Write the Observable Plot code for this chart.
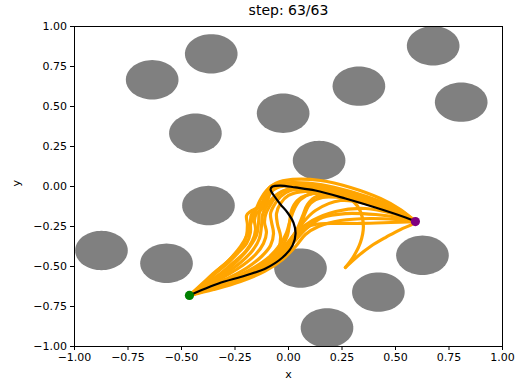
<!DOCTYPE html>
<html><head><meta charset="utf-8">
<script src="https://cdn.jsdelivr.net/npm/d3@7"></script>
<script src="https://cdn.jsdelivr.net/npm/@observablehq/plot@0.6"></script>
<style>body{margin:0;background:#fff} svg{display:block}</style>
</head><body><div id="chart"></div>
<script>
const title = "step: 63/63";
const tickValues = [-1, -0.75, -0.5, -0.25, 0, 0.25, 0.5, 0.75, 1];
const obstacleX = [-0.637, -0.361, -0.435, -0.025, 0.329, 0.676, 0.807, 0.143, -0.374, -0.874, -0.57, 0.056, 0.626, 0.42, 0.18];
const obstacleY = [0.667, 0.829, 0.333, 0.458, 0.627, 0.879, 0.527, 0.1625, -0.119, -0.40, -0.48, -0.51, -0.43, -0.66, -0.884];
const obstacleRadius = 0.123;
const startPoint = [-0.463, -0.681];
const goalPoint = [0.593, -0.219];
const bestPath = [[-0.463,-0.681],[-0.411,-0.65],[-0.327,-0.606],[-0.201,-0.556],[-0.107,-0.5125],[-0.028,-0.444],[0.019,-0.369],[0.033,-0.294],[0.023,-0.225],[-0.005,-0.1625],[-0.037,-0.1125],[-0.065,-0.0625],[-0.084,-0.019],[-0.075,0],[-0.037,0.006],[0.033,-0.006],[0.126,-0.025],[0.266,-0.075],[0.421,-0.1375],[0.547,-0.194],[0.593,-0.219]];
const samplePaths = [
 [[-0.463,-0.681],[-0.402,-0.606],[-0.346,-0.5375],[-0.294,-0.481],[-0.248,-0.419],[-0.215,-0.369],[-0.196,-0.306],[-0.192,-0.2375],[-0.196,-0.181],[-0.178,-0.156],[-0.145,-0.131],[-0.121,-0.094],[-0.107,-0.044],[-0.089,-0.006],[-0.047,0.019],[0.033,0.025],[0.150,0.0125],[0.290,-0.031],[0.430,-0.094],[0.523,-0.15],[0.593,-0.219]],
 [[-0.463,-0.681],[-0.388,-0.6125],[-0.318,-0.544],[-0.257,-0.475],[-0.201,-0.406],[-0.168,-0.3375],[-0.154,-0.269],[-0.159,-0.2125],[-0.150,-0.169],[-0.121,-0.1375],[-0.098,-0.0875],[-0.084,-0.0375],[-0.051,-0.006],[0.019,0.006],[0.126,-0.006],[0.266,-0.044],[0.407,-0.106],[0.514,-0.1625],[0.593,-0.219]],
 [[-0.463,-0.681],[-0.374,-0.619],[-0.290,-0.556],[-0.215,-0.494],[-0.154,-0.425],[-0.117,-0.356],[-0.103,-0.2875],[-0.112,-0.225],[-0.107,-0.175],[-0.089,-0.125],[-0.065,-0.075],[-0.028,-0.031],[0.047,-0.0125],[0.173,-0.025],[0.313,-0.069],[0.453,-0.131],[0.593,-0.219]],
 [[-0.463,-0.681],[-0.364,-0.631],[-0.262,-0.575],[-0.168,-0.519],[-0.093,-0.456],[-0.047,-0.3875],[-0.037,-0.3125],[-0.051,-0.2375],[-0.056,-0.169],[-0.037,-0.106],[0,-0.056],[0.079,-0.031],[0.220,-0.05],[0.360,-0.094],[0.486,-0.15],[0.593,-0.219]],
 [[-0.463,-0.681],[-0.355,-0.631],[-0.243,-0.581],[-0.140,-0.525],[-0.056,-0.456],[0.009,-0.369],[0.056,-0.2875],[0.103,-0.244],[0.196,-0.231],[0.336,-0.231],[0.477,-0.225],[0.593,-0.219]],
 [[-0.463,-0.681],[-0.364,-0.631],[-0.252,-0.581],[-0.154,-0.519],[-0.075,-0.45],[-0.019,-0.375],[0.037,-0.2875],[0.112,-0.2125],[0.220,-0.156],[0.360,-0.1375],[0.486,-0.169],[0.593,-0.219]],
 [[-0.463,-0.681],[-0.364,-0.631],[-0.262,-0.575],[-0.168,-0.5125],[-0.093,-0.444],[-0.042,-0.369],[-0.009,-0.2875],[0.009,-0.206],[0.028,-0.1375],[0.056,-0.081],[0.112,-0.044],[0.243,-0.05],[0.383,-0.1],[0.500,-0.156],[0.593,-0.219]],
 [[-0.463,-0.681],[-0.397,-0.606],[-0.332,-0.525],[-0.271,-0.45],[-0.224,-0.375],[-0.192,-0.3],[-0.173,-0.219],[-0.154,-0.15],[-0.131,-0.081],[-0.103,-0.025],[-0.061,0.019],[0.019,0.044],[0.150,0.0375],[0.290,-0.006],[0.430,-0.075],[0.523,-0.144],[0.593,-0.219]],
 [[-0.463,-0.681],[-0.379,-0.619],[-0.299,-0.55],[-0.224,-0.475],[-0.168,-0.4],[-0.136,-0.325],[-0.126,-0.244],[-0.121,-0.175],[-0.098,-0.1125],[-0.061,-0.056],[0.009,-0.0125],[0.126,-0.006],[0.234,-0.0375],[0.299,-0.0875],[0.336,-0.156],[0.350,-0.25],[0.336,-0.35],[0.304,-0.4375],[0.266,-0.506]],
 [[-0.463,-0.681],[-0.360,-0.631],[-0.252,-0.581],[-0.150,-0.519],[-0.065,-0.444],[0,-0.35],[0.056,-0.244],[0.126,-0.15],[0.243,-0.0875],[0.383,-0.1125],[0.500,-0.1625],[0.593,-0.219],[0.523,-0.269],[0.453,-0.319],[0.383,-0.375],[0.322,-0.4375],[0.266,-0.506]],
 [[-0.463,-0.681],[-0.360,-0.631],[-0.248,-0.581],[-0.150,-0.519],[-0.070,-0.45],[-0.009,-0.3625],[0.037,-0.275],[0.065,-0.1875],[0.089,-0.1125],[0.131,-0.0625],[0.243,-0.0625],[0.383,-0.106],[0.500,-0.1625],[0.593,-0.219]],
 [[-0.463,-0.681],[-0.355,-0.6375],[-0.238,-0.5875],[-0.136,-0.525],[-0.051,-0.45],[0.019,-0.356],[0.084,-0.2625],[0.159,-0.194],[0.266,-0.169],[0.407,-0.175],[0.514,-0.194],[0.593,-0.219]],
 [[-0.463,-0.681],[-0.383,-0.619],[-0.308,-0.544],[-0.238,-0.4625],[-0.187,-0.3875],[-0.150,-0.306],[-0.140,-0.225],[-0.136,-0.1625],[-0.117,-0.106],[-0.093,-0.056],[-0.065,-0.0125],[-0.014,0.0125],[0.079,0.0125],[0.220,-0.019],[0.360,-0.075],[0.486,-0.144],[0.593,-0.219]],
 [[-0.463,-0.681],[-0.397,-0.6125],[-0.336,-0.5375],[-0.280,-0.475],[-0.234,-0.4125],[-0.196,-0.356],[-0.178,-0.2875],[-0.178,-0.225],[-0.173,-0.175],[-0.150,-0.144],[-0.121,-0.1125],[-0.103,-0.0625],[-0.084,-0.019],[-0.037,0.006],[0.056,0.0125],[0.196,-0.0125],[0.336,-0.0625],[0.467,-0.131],[0.593,-0.219]],
 [[-0.463,-0.681],[-0.369,-0.625],[-0.276,-0.569],[-0.192,-0.506],[-0.126,-0.4375],[-0.084,-0.369],[-0.070,-0.294],[-0.079,-0.225],[-0.084,-0.169],[-0.065,-0.1125],[-0.037,-0.0625],[0.009,-0.025],[0.103,-0.019],[0.243,-0.044],[0.383,-0.1],[0.500,-0.156],[0.593,-0.219]],
 [[-0.463,-0.681],[-0.350,-0.644],[-0.224,-0.594],[-0.112,-0.531],[-0.028,-0.456],[0.033,-0.375],[0.079,-0.3],[0.140,-0.25],[0.243,-0.2125],[0.383,-0.2],[0.500,-0.206],[0.593,-0.219]],
 [[-0.463,-0.681],[-0.355,-0.6375],[-0.234,-0.5875],[-0.126,-0.519],[-0.047,-0.444],[0.014,-0.35],[0.056,-0.2625],[0.075,-0.175],[0.103,-0.106],[0.159,-0.069],[0.266,-0.075],[0.393,-0.119],[0.505,-0.169],[0.593,-0.219]],
 [[-0.463,-0.681],[-0.364,-0.6375],[-0.252,-0.581],[-0.159,-0.525],[-0.084,-0.456],[-0.033,-0.381],[-0.005,-0.306],[0.005,-0.225],[0.014,-0.15],[0.042,-0.0875],[0.093,-0.05],[0.196,-0.044],[0.336,-0.081],[0.477,-0.144],[0.593,-0.219]]
];

// derived tables
const angles = d3.range(0, 361, 5).map(a => a * Math.PI / 180);
const obstaclePts = obstacleX.flatMap((cx, i) => angles.map(t => ({id: i, x: cx + obstacleRadius * Math.cos(t), y: obstacleY[i] + obstacleRadius * Math.sin(t)})));
const samplePts = samplePaths.flatMap((p, i) => p.map(([x, y]) => ({id: i, x, y})));
const bestPts = bestPath.map(([x, y]) => ({x, y}));
const fmt = d3.format(".2f");

const chart = Plot.plot({
  width: 520, height: 383,
  marginLeft: 74, marginRight: 18, marginTop: 26, marginBottom: 37,
  style: {fontFamily: "'DejaVu Sans', sans-serif", fontSize: "11px", background: "#fff", color: "#000", overflow: "visible"},
  x: {domain: [-1, 1], axis: null},
  y: {domain: [-1, 1], axis: null},
  marks: [
    Plot.line(obstaclePts, {x: "x", y: "y", z: "id", fill: "#808080", stroke: "none", clip: true}),
    Plot.line(samplePts, {x: "x", y: "y", z: "id", stroke: "#FFA500", strokeWidth: 3.2, curve: "catmull-rom", clip: true}),
    Plot.line(bestPts, {x: "x", y: "y", stroke: "#000", strokeWidth: 2.2, curve: "catmull-rom"}),
    Plot.dot([startPoint], {x: d => d[0], y: d => d[1], r: 4.6, fill: "#008000"}),
    Plot.dot([goalPoint], {x: d => d[0], y: d => d[1], r: 4.6, fill: "#800080"}),
    Plot.frame({stroke: "#000"}),
    Plot.axisX({ticks: tickValues, tickFormat: fmt, tickSize: 4, tickPadding: 3, label: null}),
    Plot.axisY({ticks: tickValues, tickFormat: fmt, tickSize: 4, tickPadding: 3.5, label: null}),
    Plot.text([title], {text: d => d, frameAnchor: "top", dy: -21, fontSize: 14}),
    Plot.text(["x"], {text: d => d, frameAnchor: "bottom", dy: 31, fontSize: 11}),
    Plot.text(["y"], {text: d => d, frameAnchor: "left", dx: -58, rotate: -90, fontSize: 11})
  ]
});
document.getElementById("chart").appendChild(chart);
</script>
</body></html>
